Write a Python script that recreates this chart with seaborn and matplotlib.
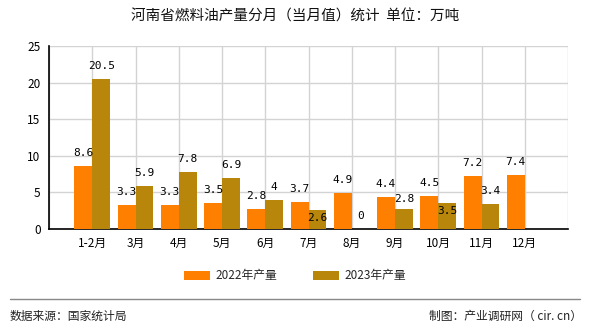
import numpy as np
import pandas as pd
import matplotlib
matplotlib.use("Agg")
import matplotlib.pyplot as plt
import seaborn as sns

# Monthly fuel oil output in Henan (10k tonnes)
months = ["1-2月", "3月", "4月", "5月", "6月", "7月", "8月", "9月", "10月", "11月", "12月"]
output_2022 = [8.6, 3.3, 3.3, 3.5, 2.8, 3.7, 4.9, 4.4, 4.5, 7.2, 7.4]
output_2023 = [20.5, 5.9, 7.8, 6.9, 4.0, 2.6, 0.0, 2.8, 3.5, 3.4, np.nan]
series_names = ["2022年产量", "2023年产量"]
colors = ["#FF8000", "#B8860B"]

# Vertical offsets (pixels) of value labels relative to bar tops;
# negative values tuck a label inside its bar to avoid a neighbour.
label_dy_2022 = [13] * 11
label_dy_2023 = [13, 13, 13, 13, 13, -8, 13, 10, -8, 13, 13]

df = pd.DataFrame({
    "month": months * 2,
    "value": output_2022 + output_2023,
    "series": [series_names[0]] * len(months) + [series_names[1]] * len(months),
})

sns.set_style("white")
plt.rcParams["font.family"] = ["Noto Sans CJK SC", "DejaVu Sans"]

fig = plt.figure(figsize=(5.9, 3.3), dpi=100)
ax = fig.add_axes([49 / 590, 1 - 229 / 330, (568 - 49) / 590, (229 - 46) / 330])

sns.barplot(data=df, x="month", y="value", hue="series", order=months,
            hue_order=series_names, palette=colors, width=0.83,
            saturation=1, linewidth=0, edgecolor="none",
            ax=ax, legend=True, zorder=3)

ax.set_xlim(-1, 11)
ax.set_ylim(0, 25)
ax.set_yticks(np.arange(0, 26, 5))
ax.set_xticks(np.arange(-1, 12))
ax.set_xticklabels([""] + months + [""])
ax.set_xlabel("")
ax.set_ylabel("")

ax.grid(True, color="#d3d3d3", linewidth=1, zorder=0)
ax.set_axisbelow(True)
for side in ["top", "right"]:
    ax.spines[side].set_visible(False)
for side in ["left", "bottom"]:
    ax.spines[side].set_color("black")
    ax.spines[side].set_linewidth(1.2)
ax.tick_params(axis="both", direction="out", length=4, width=1, color="black",
               labelsize=8.5, labelcolor="black", pad=2)

# Value labels above bars
px = 0.72
for cont, vals, dys in zip(ax.containers, [output_2022, output_2023],
                           [label_dy_2022, label_dy_2023]):
    for bar, v, dy in zip(cont.patches, vals, dys):
        if np.isnan(v):
            continue
        x = bar.get_x() + bar.get_width() / 2
        ax.annotate(f"{v:g}", (x, v), xytext=(0, dy * px), textcoords="offset points",
                    ha="center", va="center", fontsize=8,
                    family=["DejaVu Sans Mono"], color="black", zorder=5)

# Legend below the chart
ax.legend(loc="center", bbox_to_anchor=(0.5, 1 - 276 / 330), bbox_transform=fig.transFigure,
          ncol=2, frameon=False, fontsize=8.5, handlelength=2.2, handleheight=0.7,
          columnspacing=3.0, handletextpad=0.5)

# Title
fig.text(0.5, 1 - 17 / 330, "河南省燃料油产量分月（当月值）统计  单位：万吨",
         ha="center", va="center", fontsize=10.5, fontweight="medium", color="#111111")

# Footer
fig.add_artist(plt.Line2D([10 / 590, 580 / 590], [1 - 299 / 330] * 2,
                          transform=fig.transFigure, color="#888888", linewidth=1))
fig.text(10 / 590, 1 - 316 / 330, "数据来源：国家统计局", ha="left", va="center",
         fontsize=8.5, color="#222222")
fig.text(582 / 590, 1 - 316 / 330, "制图：产业调研网（ cir. cn）", ha="right", va="center",
         fontsize=8.5, color="#222222")

fig.savefig("out.png", dpi=100)
